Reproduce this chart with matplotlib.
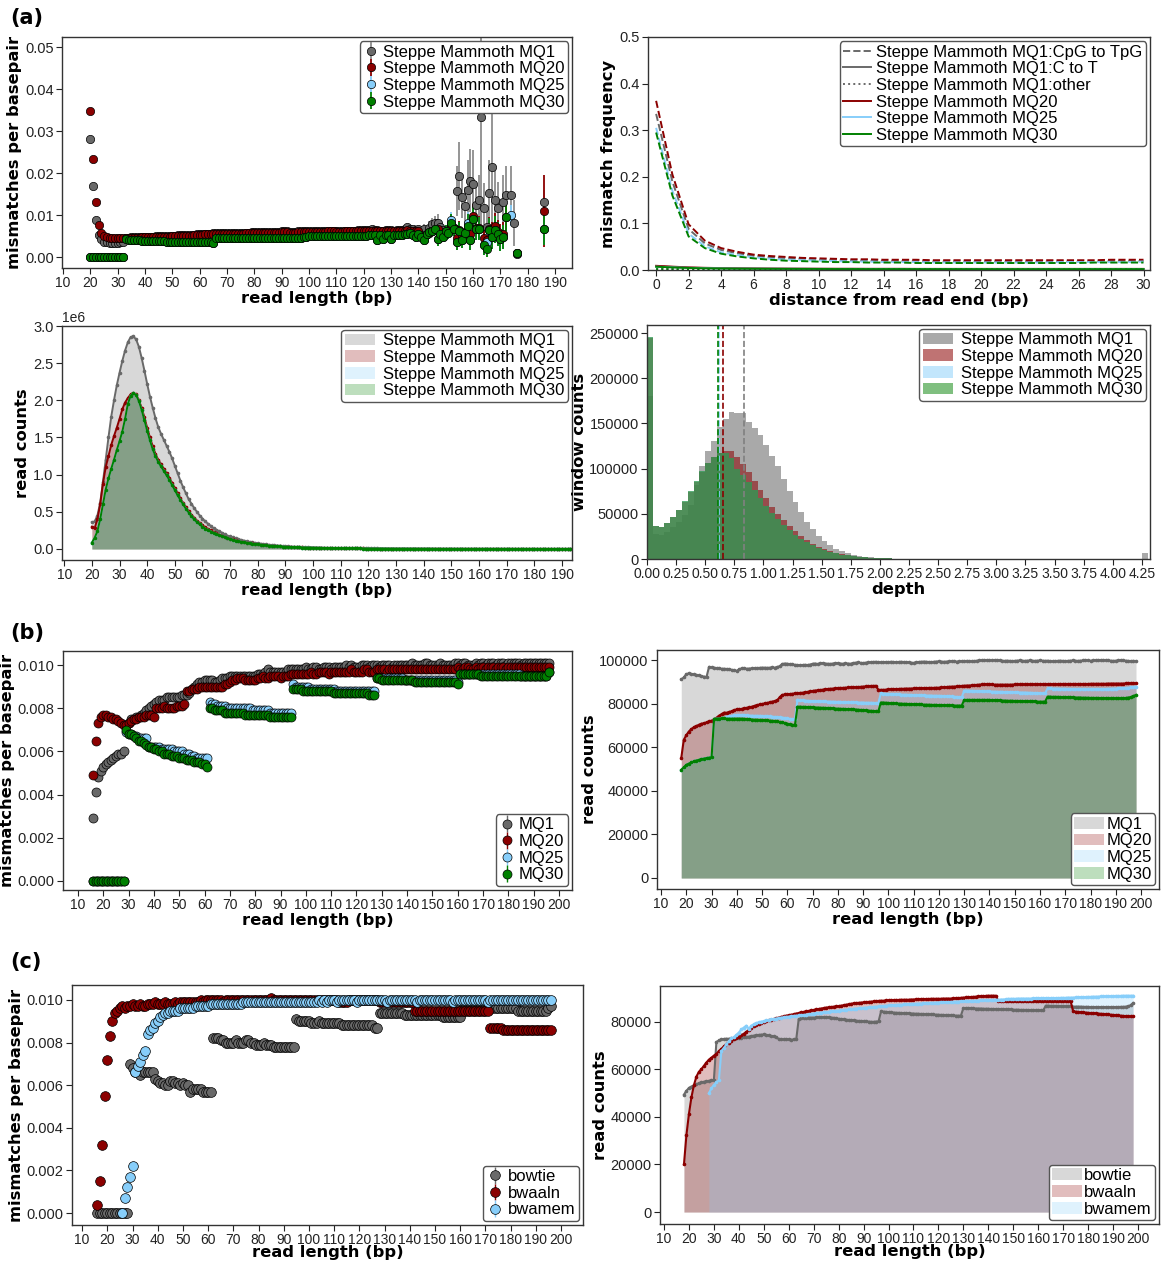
import numpy as np
import matplotlib
matplotlib.use('Agg')
import matplotlib.pyplot as plt

plt.rcParams['font.family'] = ['Liberation Sans', 'DejaVu Sans']

N = None
GRAY, RED, BLUE, GREEN = '#696969', '#8b0000', '#87cefa', '#008000'
COLORS = [GRAY, RED, BLUE, GREEN]
mq_names = ['Steppe Mammoth MQ1', 'Steppe Mammoth MQ20',
            'Steppe Mammoth MQ25', 'Steppe Mammoth MQ30']
mq_short = ['MQ1', 'MQ20', 'MQ25', 'MQ30']
aligners = ['bowtie', 'bwaaln', 'bwamem']

# ---------------- (a) mismatches per basepair, units of 1e-4 ----------------
a1_head_x = list(range(20, 141))
a1_mq1_head = [280, 170, 88, 52, 42, 37, 35, 34, 34, 34, 34, 35, 36,
               46, 46, 47, 47, 47, 48, 48, 48,
               49, 49, 49, 50, 50, 50, 50, 51, 51, 51,
               51, 52, 52, 52, 52, 53, 53, 53, 54, 55,
               56, 56, 56, 56, 57, 57, 57, 57, 57, 57,
               57, 58, 58, 58, 58, 58, 58, 58, 59, 59,
               59, 59, 59, 59, 59, 60, 60, 60, 60, 61,
               61, 61, 60, 60, 60, 61, 61, 61, 61, 62,
               62, 62, 62, 62, 62, 62, 63, 63, 63, 62,
               62, 62, 63, 63, 63, 63, 63, 64, 64, 64,
               64, 65, 66, 65, 64, 63, 63, 64, 64, 65,
               63, 64, 64, 65, 67, 72, 68, 66, 65, 66]
a1_mq20_head = [347, 233, 130, 77, 57, 50, 47, 46, 46, 46, 45, 45, 45,
                45, 45, 45, 46, 46, 46, 47, 47,
                47, 47, 48, 48, 48, 49, 49, 49, 49, 50,
                50, 50, 50, 51, 51, 51, 51, 52, 52, 53,
                53, 54, 54, 54, 55, 55, 55, 55, 55, 55,
                56, 56, 56, 56, 56, 56, 57, 57, 57, 57,
                57, 57, 57, 58, 58, 58, 58, 58, 58, 59,
                59, 59, 58, 58, 58, 59, 59, 59, 59, 60,
                60, 60, 60, 60, 60, 60, 61, 61, 61, 60,
                60, 60, 61, 61, 61, 61, 61, 62, 62, 62,
                62, 62, 63, 62, 62, 61, 61, 62, 62, 62,
                61, 61, 62, 62, 63, 64, 63, 62, 62, 62]
a1_mq30_head = [0, 0, 0, 0, 0, 0, 0, 0, 0, 0, 0, 0, 0,
                42, 41, 41, 40, 40, 40, 39, 39, 39, 39,
                38, 38, 38, 38, 38, 37, 37, 37, 37, 37,
                36, 36, 36, 36, 36, 36, 35, 35, 35, 35, 35, 35, 34,
                46, 46, 46, 46, 46, 46, 46, 46, 46, 46,
                46, 46, 46, 46, 46, 46, 46, 46, 46, 46,
                46, 46, 46, 46, 46, 46, 46, 46, 46, 46, 46, 46, 47,
                49, 50, 50, 50, 50, 50, 50, 50, 50, 50,
                50, 50, 50, 50, 51, 51, 51, 51, 51, 51,
                51, 51, 51, 52, 52, 52, 41, 52, 42, 52, 52, 43, 52,
                53, 53, 52, 55, 55, 58, 52, 48, 55]
a1_mq25_head = a1_mq30_head  # hidden under MQ30 in the picture

a1_tail_x = list(range(141, 187))
a1_mq1_tail = [60, 68, 56, 70, 78, 80, 82, 72, 65, 58,
               62, 78, 70, 158, 193, 142, 121, 160, 182, 175,
               125, 136, 334, 116, 72, 152, 215, 136, 118, N,
               130, 148, N, 148, 82, 7, N, N, N, N,
               N, N, N, N, N, 130]
a1_mq1_err = [8, 10, 10, 15, 15, 18, 20, 15, 12, 12,
              15, 25, 20, 60, 80, 50, 45, 70, 75, 80,
              55, 60, 270, 60, 40, 80, 150, 70, 60, N,
              65, 70, N, 70, 55, 3, N, N, N, N,
              N, N, N, N, N, 30]
a1_mq20_tail = [52, 50, 55, 58, 62, 65, 68, 56, 50, 60,
                62, 75, 70, 45, 65, 50, 60, 78, 55, 97,
                70, 70, N, 45, 40, 68, 55, 74, 60, 50,
                55, 95, N, N, N, 9, N, N, N, N,
                N, N, N, N, N, 110]
a1_mq20_err = [8, 8, 10, 10, 12, 12, 15, 12, 12, 15,
               15, 20, 18, 18, 22, 18, 20, 28, 22, 30,
               28, 28, N, 22, 20, 28, 28, 32, 28, 28,
               28, 32, N, N, N, 3, N, N, N, N,
               N, N, N, N, N, 85]
a1_mq25_tail = [48, 40, 55, 60, 62, 68, 42, 55, 48, 62,
                58, 88, 68, 35, 62, 40, 58, 80, 40, 90,
                68, 68, N, 28, 35, 65, 48, 65, 55, 42,
                48, N, N, 100, N, 9, N, N, N, N,
                N, N, N, N, N, 68]
a1_mq25_err = [8, 8, 10, 10, 12, 12, 15, 12, 12, 15,
               15, 20, 18, 18, 22, 18, 20, 28, 22, 30,
               28, 28, N, 22, 20, 28, 28, 32, 28, 28,
               28, N, N, 25, N, 3, N, N, N, N,
               N, N, N, N, N, 40]
a1_mq30_tail = [48, 40, 55, 60, 62, 68, 42, 55, 48, 62,
                58, 82, 68, 35, 62, 40, 58, 75, 40, 90,
                68, 68, N, 28, 20, 65, 48, 65, 55, 42,
                48, 95, N, N, N, 9, N, N, N, N,
                N, N, N, N, N, 68]
a1_mq30_err = [8, 8, 10, 10, 12, 12, 15, 12, 12, 15,
               15, 20, 18, 18, 22, 18, 20, 28, 22, 30,
               28, 28, N, 22, 20, 28, 28, 32, 28, 28,
               28, 32, N, N, N, 3, N, N, N, N,
               N, N, N, N, N, 40]

# ---------------- (a) mismatch frequency vs distance from read end ----------------
a2_x = list(range(0, 31))
a2_cpg = [
    [0.335, 0.19, 0.088, 0.057, 0.043, 0.036, 0.030, 0.027, 0.025, 0.024, 0.022,
     0.021, 0.020, 0.020, 0.019, 0.019, 0.019, 0.018, 0.018, 0.018, 0.018,
     0.018, 0.018, 0.018, 0.018, 0.018, 0.018, 0.018, 0.019, 0.019, 0.019],
    [0.363, 0.205, 0.098, 0.063, 0.047, 0.039, 0.033, 0.030, 0.028, 0.026, 0.025,
     0.024, 0.023, 0.023, 0.022, 0.022, 0.022, 0.021, 0.021, 0.021, 0.021,
     0.021, 0.021, 0.021, 0.021, 0.021, 0.021, 0.021, 0.022, 0.022, 0.022],
    [0.305, 0.17, 0.078, 0.051, 0.038, 0.032, 0.027, 0.024, 0.022, 0.021, 0.020,
     0.019, 0.018, 0.018, 0.017, 0.017, 0.017, 0.016, 0.016, 0.016, 0.016,
     0.016, 0.016, 0.016, 0.016, 0.017, 0.017, 0.017, 0.017, 0.017, 0.018],
    [0.295, 0.16, 0.072, 0.047, 0.035, 0.029, 0.025, 0.022, 0.020, 0.019, 0.018,
     0.017, 0.017, 0.016, 0.016, 0.016, 0.015, 0.015, 0.015, 0.015, 0.015,
     0.015, 0.015, 0.015, 0.015, 0.015, 0.015, 0.016, 0.016, 0.016, 0.016],
]
a2_ct = [
    [0.008, 0.0065, 0.005, 0.0042, 0.0037, 0.0033, 0.003, 0.0028, 0.0027, 0.0026, 0.0025,
     0.0024, 0.0024, 0.0023, 0.0023, 0.0023, 0.0022, 0.0022, 0.0022, 0.0022, 0.0022,
     0.0022, 0.0022, 0.0022, 0.0022, 0.0022, 0.0022, 0.0022, 0.0022, 0.0022, 0.0022],
    [0.009, 0.0072, 0.0056, 0.0047, 0.0041, 0.0036, 0.0033, 0.0031, 0.0029, 0.0028, 0.0027,
     0.0026, 0.0026, 0.0025, 0.0025, 0.0025, 0.0024, 0.0024, 0.0024, 0.0024, 0.0024,
     0.0024, 0.0024, 0.0024, 0.0024, 0.0024, 0.0024, 0.0024, 0.0024, 0.0024, 0.0024],
    [0.0072, 0.0058, 0.0046, 0.0039, 0.0034, 0.003, 0.0028, 0.0026, 0.0025, 0.0024, 0.0023,
     0.0022, 0.0022, 0.0021, 0.0021, 0.0021, 0.0020, 0.0020, 0.0020, 0.0020, 0.0020,
     0.0020, 0.0020, 0.0020, 0.0020, 0.0020, 0.0020, 0.0020, 0.0020, 0.0020, 0.0020],
    [0.007, 0.0056, 0.0044, 0.0037, 0.0032, 0.0029, 0.0027, 0.0025, 0.0024, 0.0023, 0.0022,
     0.0021, 0.0021, 0.0020, 0.0020, 0.0020, 0.0019, 0.0019, 0.0019, 0.0019, 0.0019,
     0.0019, 0.0019, 0.0019, 0.0019, 0.0019, 0.0019, 0.0019, 0.0019, 0.0019, 0.0019],
]
a2_other = [
    [0.0026, 0.0024, 0.0023, 0.0022, 0.0021, 0.0021, 0.0020, 0.0020, 0.0020, 0.0020, 0.0020,
     0.0019, 0.0019, 0.0019, 0.0019, 0.0019, 0.0019, 0.0019, 0.0019, 0.0019, 0.0019,
     0.0019, 0.0019, 0.0019, 0.0019, 0.0019, 0.0019, 0.0019, 0.0019, 0.0019, 0.0019],
    [0.0024, 0.0022, 0.0021, 0.0020, 0.0019, 0.0019, 0.0018, 0.0018, 0.0018, 0.0018, 0.0018,
     0.0017, 0.0017, 0.0017, 0.0017, 0.0017, 0.0017, 0.0017, 0.0017, 0.0017, 0.0017,
     0.0017, 0.0017, 0.0017, 0.0017, 0.0017, 0.0017, 0.0017, 0.0017, 0.0017, 0.0017],
    [0.0021, 0.0019, 0.0018, 0.0017, 0.0016, 0.0016, 0.0015, 0.0015, 0.0015, 0.0015, 0.0015,
     0.0014, 0.0014, 0.0014, 0.0014, 0.0014, 0.0014, 0.0014, 0.0014, 0.0014, 0.0014,
     0.0014, 0.0014, 0.0014, 0.0014, 0.0014, 0.0014, 0.0014, 0.0014, 0.0014, 0.0014],
    [0.0020, 0.0018, 0.0017, 0.0016, 0.0015, 0.0015, 0.0014, 0.0014, 0.0014, 0.0014, 0.0014,
     0.0013, 0.0013, 0.0013, 0.0013, 0.0013, 0.0013, 0.0013, 0.0013, 0.0013, 0.0013,
     0.0013, 0.0013, 0.0013, 0.0013, 0.0013, 0.0013, 0.0013, 0.0013, 0.0013, 0.0013],
]
a2_kinds = ['CpG to TpG', 'C to T', 'other']

# ---------------- (a) read counts vs length, units of 1e3 ----------------
a3_x = list(range(20, 196))
a3_mq1 = [360, 370, 450, 620, 900, 1200, 1500, 1780, 2000, 2200,
          2370, 2530, 2670, 2780, 2850, 2860, 2820, 2720, 2570, 2400,
          2220, 2050, 1900, 1760, 1640, 1550, 1470, 1390, 1310, 1220,
          1120, 1020, 920, 830, 750, 670, 610, 550, 500, 450,
          410, 370, 340, 310, 280, 260, 240, 220, 200, 180,
          170, 155, 143, 132, 122, 113, 104, 96, 89, 83,
          77, 71, 66, 61, 57, 53, 49, 46, 43, 40,
          37, 35, 32, 30, 28, 26, 25, 23, 22, 20,
          19, 18, 17, 16, 15, 14, 14, 13, 12, 12,
          11, 11, 10, 10, 9, 9, 9, 8, 8, 8,
          7, 7, 7, 7, 6, 6, 6, 6, 5, 5,
          5, 5, 5, 5, 4, 4, 4, 4, 4, 4,
          4, 3, 3, 3, 3, 3, 3, 3, 3, 3,
          3, 3, 2, 2, 2, 2, 2, 2, 2, 2,
          2, 2, 2, 2, 2, 2, 2, 2, 2, 2,
          2, 2, 1, 1, 1, 1, 1, 1, 1, 1,
          1, 1, 1, 1, 1, 1, 1, 1, 1, 1,
          1, 1, 1, 1, 1, 1]
a3_mq20 = [300, 280, 400, 600, 880, 1100, 1250, 1400, 1520, 1630,
           1750, 1880, 1970, 2030, 2080, 2100, 2080, 2000, 1900, 1770,
           1630, 1500, 1380, 1280, 1200, 1140, 1080, 1020, 960, 890,
           820, 750, 680, 620, 560, 510, 460, 420, 380, 350,
           320, 290, 270, 250, 230, 210, 195, 180, 165, 150,
           140, 128, 118, 109, 100, 93, 86, 80, 74, 69,
           64, 59, 55, 51, 47, 44, 41, 38, 36, 33,
           31, 29, 27, 25, 24, 22, 21, 20, 18, 17,
           16, 15, 14, 14, 13, 12, 12, 11, 10, 10,
           9, 9, 9, 8, 8, 8, 7, 7, 7, 6,
           6, 6, 6, 5, 5, 5, 5, 5, 4, 4,
           4, 4, 4, 4, 4, 3, 3, 3, 3, 3,
           3, 3, 3, 3, 3, 2, 2, 2, 2, 2,
           2, 2, 2, 2, 2, 2, 2, 2, 2, 2,
           2, 2, 2, 1, 1, 1, 1, 1, 1, 1,
           1, 1, 1, 1, 1, 1, 1, 1, 1, 1,
           1, 1, 1, 1, 1, 1, 1, 1, 1, 1,
           1, 1, 1, 1, 1, 1]
a3_mq30 = [85, 150, 240, 400, 600, 800, 950, 1080, 1200, 1330,
           1450, 1580, 1750, 1950, 2060, 2100, 2070, 1990, 1870, 1730,
           1590, 1460, 1340, 1250, 1170, 1110, 1050, 990, 930, 860,
           790, 720, 660, 600, 540, 490, 440, 400, 360, 330,
           300, 275, 255, 235, 215, 200, 185, 170, 157, 145,
           135, 124, 114, 105, 97, 90, 83, 77, 72, 67,
           62, 57, 53, 49, 46, 43, 40, 37, 35, 32,
           30, 28, 26, 25, 23, 22, 20, 19, 18, 17,
           16, 15, 14, 13, 12, 12, 11, 11, 10, 10,
           9, 9, 8, 8, 8, 7, 7, 7, 6, 6,
           6, 6, 5, 5, 5, 5, 5, 4, 4, 4,
           4, 4, 4, 4, 3, 3, 3, 3, 3, 3,
           3, 3, 3, 3, 2, 2, 2, 2, 2, 2,
           2, 2, 2, 2, 2, 2, 2, 2, 2, 2,
           2, 2, 1, 1, 1, 1, 1, 1, 1, 1,
           1, 1, 1, 1, 1, 1, 1, 1, 1, 1,
           1, 1, 1, 1, 1, 1, 1, 1, 1, 1,
           1, 1, 1, 1, 1, 1]
a3_mq25 = a3_mq30  # indistinguishable from MQ30 in the picture

# ---------------- (a) depth histogram, bins of 0.05 ----------------
a4_bin_width = 0.05
a4_bins = [round(0.05 * i, 2) for i in range(52)] + [4.25]
a4_mq1 = [180000, 28000, 27000, 30000, 35000, 41000, 49000, 60000, 82000, 103000,
          120000, 131000, 146000, 155000, 163000, 162000, 161000, 152000, 145000, 137000,
          126000, 114000, 103000, 89000, 75000, 63000, 52000, 41000, 33000, 26000,
          20000, 15000, 11500, 8500, 6300, 4600, 3400, 2500, 1800, 1300,
          950, 700, 500, 380, 280, 200, 150, 110, 80, 60,
          45, 35, 7000]
a4_mq20 = [244000, 36000, 35000, 40000, 46000, 54000, 63000, 74000, 85000, 96000,
           106000, 113000, 117000, 120000, 119000, 113000, 105000, 96000, 86000, 76000,
           67000, 58000, 50000, 43000, 36500, 30500, 25500, 21000, 17000, 13800,
           11000, 8800, 7000, 5500, 4300, 3400, 2600, 2000, 1550, 1200,
           900, 700, 530, 400, 300, 230, 170, 130, 100, 75,
           55, 40, 0]
a4_mq30 = [246000, 36000, 35000, 40000, 46000, 54000, 64000, 75000, 86000, 97000,
           106000, 113000, 117000, 117000, 112000, 100000, 93000, 85000, 76000, 67000,
           59000, 51000, 44000, 38000, 32000, 27000, 22500, 18500, 15000, 12000,
           9700, 7800, 6200, 4900, 3900, 3000, 2300, 1800, 1400, 1100,
           800, 600, 460, 350, 270, 210, 160, 120, 90, 70,
           50, 40, 0]
a4_mq25 = a4_mq30  # indistinguishable from MQ30 in the picture
a4_means = [0.83, 0.655, 0.62, 0.61]

# ---------------- (b) and (c): read length as placed on each panel's axis ----------------
b1_x = list(range(16, 197))
b2_x = list(range(18, 199))
c1_x = list(range(16, 197))
c2_x = list(range(18, 199))

# mismatches per basepair, units of 1e-4
b1_mq1 = [29, 41, 48, 51, 53, 54, 55, 56, 57, 58,
          59, 59, 60, 72, 73, 75, 75, 76, 76, 77,
          78, 79, 80, 81, 82, 83, 84, 84, 84, 85,
          85, 85, 85, 85, 85, 86, 86, 86, 87, 89,
          90, 91, 92, 92, 93, 93, 93, 93, 92, 92,
          93, 94, 94, 94, 95, 95, 95, 95, 95, 95,
          95, 95, 95, 95, 95, 96, 96, 96, 97, 98,
          97, 97, 97, 97, 97, 97, 97, 98, 98, 98,
          98, 98, 98, 98, 99, 98, 98, 99, 99, 98,
          98, 99, 99, 99, 98, 99, 99, 99, 99, 99,
          100, 99, 100, 99, 99, 99, 100, 100, 100, 99,
          100, 100, 100, 99, 100, 100, 100, 100, 99, 100,
          100, 100, 100, 100, 100, 100, 101, 100, 100, 100,
          100, 101, 101, 100, 100, 100, 100, 101, 100, 100,
          100, 100, 100, 101, 101, 100, 101, 101, 100, 100,
          100, 101, 100, 101, 101, 100, 101, 101, 101, 100,
          101, 101, 101, 100, 101, 101, 101, 101, 101, 100,
          101, 101, 101, 101, 101, 101, 101, 101, 101, 101, 101]
b1_mq20 = [49, 65, 73, 76, 77, 77, 76, 76, 75, 75,
           74, 73, 72, 72, 73, 74, 75, 75, 76, 76,
           76, 77, 77, 77, 76, 80, 80, 80, 81, 80,
           80, 80, 80, 81, 81, 81, 82, 88, 88, 89,
           89, 89, 90, 90, 90, 90, 90, 90, 90, 90,
           90, 90, 91, 91, 92, 93, 93, 94, 94, 94,
           93, 93, 93, 93, 93, 94, 94, 95, 94, 94,
           95, 95, 95, 95, 94, 95, 95, 95, 96, 96,
           96, 96, 96, 96, 96, 96, 97, 96, 96, 97,
           97, 97, 97, 96, 97, 97, 97, 97, 97, 97,
           97, 97, 98, 97, 97, 97, 97, 98, 98, 97,
           97, 97, 98, 98, 98, 98, 97, 98, 98, 98,
           98, 98, 98, 98, 98, 98, 98, 98, 98, 98,
           98, 98, 98, 98, 98, 98, 98, 98, 98, 98,
           98, 98, 98, 98, 99, 98, 98, 99, 99, 98,
           98, 99, 98, 99, 99, 98, 99, 99, 99, 98,
           99, 99, 99, 98, 99, 99, 99, 99, 99, 99,
           99, 99, 99, 99, 99, 99, 99, 99, 99, 99, 99]
b1_mq25 = [0, 0, 0, 0, 0, 0, 0, 0, 0, 0, 0, 0, 0,
           69, 68, 68, 67, 67, 66, 66, 66, 66, 62,
           62, 62, 62, 62, 61, 61, 61, 61, 61, 60,
           60, 60, 60, 59, 59, 59, 58, 58, 57, 57, 57, 57, 57,
           83, 82, 82, 81, 81, 81, 81, 80, 80, 80,
           80, 80, 80, 80, 80, 80, 80, 79, 79, 79,
           79, 79, 79, 79, 78, 78, 78, 78, 78, 78, 78, 78, 78,
           91, 90, 90, 90, 90, 90, 90, 89, 89, 89,
           89, 89, 89, 89, 89, 89, 89, 88, 88, 88,
           88, 88, 88, 88, 88, 88, 88, 88, 88, 88, 88, 88, 88,
           94, 94, 94, 94, 94, 94, 94, 94, 94, 94,
           94, 93, 93, 93, 93, 93, 93, 93, 93, 93,
           93, 93, 93, 93, 93, 93, 93, 93, 93, 93, 93, 93, 92,
           96, 96, 96, 96, 96, 96, 96, 96, 96, 96,
           96, 96, 96, 96, 96, 96, 96, 96, 96, 96,
           96, 96, 96, 96, 95, 95, 95, 95, 95, 95, 95, 95, 95, 95, 95, 97]
b1_mq30 = [0, 0, 0, 0, 0, 0, 0, 0, 0, 0, 0, 0, 0,
           70, 68, 68, 67, 66, 65, 65, 64, 63, 62,
           62, 61, 61, 60, 60, 59, 59, 59, 58, 58,
           58, 57, 57, 57, 56, 56, 56, 55, 55, 55, 54, 54, 53,
           80, 80, 79, 79, 79, 79, 78, 78, 78, 78,
           78, 78, 78, 78, 77, 77, 77, 77, 77, 77,
           77, 77, 77, 77, 76, 76, 76, 76, 76, 76, 76, 76, 76,
           89, 89, 89, 89, 88, 88, 88, 88, 88, 88,
           88, 88, 88, 88, 88, 88, 87, 87, 87, 87,
           87, 87, 87, 87, 87, 87, 87, 87, 87, 87, 86, 86, 86,
           94, 94, 93, 93, 93, 93, 93, 93, 93, 93,
           93, 93, 93, 93, 93, 92, 92, 92, 92, 92,
           92, 92, 92, 92, 92, 92, 92, 92, 92, 92, 92, 92, 91,
           96, 96, 96, 96, 96, 96, 96, 96, 95, 95,
           95, 95, 95, 95, 95, 95, 95, 95, 95, 95,
           95, 95, 95, 95, 95, 95, 95, 95, 95, 95, 95, 95, 95, 95, 95, 97]
b1_err = 0.00006

# read counts, units of 100
b2_mq1 = [911, 920, 935, 939, 936, 934, 932, 930, 926, 924,
          922, 969, 966, 965, 963, 962, 960, 960, 959, 958,
          955, 952, 951, 958, 962, 962, 960, 961, 962, 963,
          963, 964, 965, 965, 964, 965, 966, 965, 968, 972,
          982, 984, 983, 981, 980, 978, 977, 976, 977, 978,
          977, 979, 983, 984, 982, 985, 986, 984, 983, 982,
          984, 986, 985, 984, 983, 985, 984, 983, 986, 988,
          989, 987, 986, 988, 989, 990, 991, 992, 990, 989,
          990, 991, 990, 992, 991, 990, 991, 992, 991, 990,
          989, 988, 987, 990, 991, 992, 993, 992, 991, 990,
          992, 993, 994, 993, 992, 993, 994, 995, 994, 993,
          994, 995, 994, 996, 995, 994, 995, 997, 998, 999,
          1000, 999, 998, 999, 1000, 999, 998, 997, 996, 997,
          996, 995, 996, 997, 998, 997, 996, 997, 998, 997,
          996, 997, 998, 997, 996, 997, 995, 994, 995, 996,
          997, 996, 995, 996, 997, 998, 997, 996, 997, 998,
          999, 998, 997, 998, 999, 1000, 999, 998, 999, 998,
          997, 996, 997, 998, 999, 998, 997, 996, 995, 996, 995]
b2_mq20 = [550, 634, 655, 672, 683, 692, 697, 703, 708, 710,
           714, 718, 722, 728, 736, 745, 752, 759, 758, 762,
           765, 770, 774, 774, 776, 779, 781, 783, 786, 790,
           793, 796, 798, 801, 803, 806, 809, 812, 815, 830,
           840, 842, 843, 844, 845, 847, 848, 849, 850, 852,
           854, 856, 858, 860, 861, 862, 864, 866, 867, 868,
           869, 870, 871, 872, 872, 873, 874, 875, 875, 875,
           876, 877, 878, 879, 880, 881, 881, 882, 864, 863,
           863, 864, 865, 866, 866, 867, 867, 868, 868, 869,
           869, 869, 870, 870, 870, 871, 871, 871, 872, 872,
           872, 873, 873, 874, 875, 876, 877, 878, 878, 879,
           880, 881, 882, 883, 883, 884, 885, 886, 887, 888,
           889, 889, 888, 888, 887, 887, 887, 887, 887, 887,
           887, 887, 888, 888, 888, 888, 888, 888, 888, 888,
           889, 889, 889, 889, 889, 889, 889, 889, 889, 889,
           890, 890, 890, 890, 890, 890, 890, 890, 890, 890,
           890, 890, 891, 891, 891, 891, 891, 891, 891, 892,
           892, 892, 892, 892, 892, 892, 893, 893, 893, 893, 893]
b2_mq25 = [496, 508, 519, 525, 530, 535, 539, 542, 545, 548, 550, 552, 554,
           730, 731, 731, 732, 732,
           740, 742, 744, 746, 748, 748, 748, 748, 746, 745,
           745, 744, 744, 744, 743, 742, 741, 741, 740, 739,
           738, 737, 736, 734, 732, 730, 729, 728,
           818, 816, 815, 814, 813, 812, 812, 811, 811, 810,
           810, 810, 809, 809, 809, 808, 808, 808, 807, 807,
           807, 806, 806, 806, 805, 805, 805, 804, 804, 804, 803, 803, 802,
           847, 846, 845, 844, 843, 843, 842, 842, 841, 841,
           841, 840, 840, 839, 839, 838, 838, 838, 837, 837,
           837, 836, 836, 836, 835, 835, 834, 834, 833, 832, 831, 830, 829,
           860, 860, 859, 859, 858, 858, 857, 857, 856, 856,
           856, 855, 855, 854, 854, 854, 853, 853, 853, 852,
           852, 852, 851, 851, 851, 850, 850, 849, 849, 848, 848, 847, 847,
           870, 870, 869, 869, 869, 868, 868, 868, 867, 867,
           867, 866, 866, 866, 866, 865, 865, 865, 866, 866,
           866, 866, 867, 867, 868, 868, 869, 869, 870, 870, 871, 872, 873, 875, 876, 878]
b2_mq30 = [496, 508, 519, 525, 530, 535, 539, 542, 545, 548, 550, 552, 554,
           730, 731, 731, 732, 732,
           731, 731, 731, 731, 731, 731, 731, 730, 729, 728,
           727, 726, 726, 725, 725, 724, 723, 722, 721, 720,
           718, 716, 714, 711, 708, 705, 703, 702,
           786, 786, 785, 785, 784, 784, 783, 782, 782, 781,
           781, 780, 780, 779, 778, 777, 777, 776, 776, 775,
           775, 774, 774, 773, 772, 771, 770, 769, 768, 767, 766, 765, 764,
           805, 805, 804, 803, 802, 802, 801, 800, 800, 799,
           799, 798, 798, 797, 797, 796, 796, 795, 795, 795,
           794, 794, 794, 793, 793, 793, 792, 792, 792, 791, 791, 791, 791,
           817, 817, 817, 817, 817, 817, 817, 817, 817, 817,
           817, 816, 816, 815, 815, 814, 814, 813, 813, 813,
           812, 812, 812, 811, 811, 811, 810, 810, 810, 809, 809, 809, 809,
           832, 832, 831, 831, 831, 830, 830, 830, 829, 829,
           829, 828, 828, 828, 827, 827, 827, 826, 826, 826,
           826, 825, 825, 825, 824, 824, 824, 824, 824, 824, 825, 826, 828, 830, 835, 840]

c1_bowtie = [0, 0, 0, 0, 0, 0, 0, 0, 0, 0, 0, 0, 0,
             70, 68, 66, 66, 65, 66, 66, 66, 66, 66,
             63, 62, 61, 61, 60, 60, 62, 62, 61, 61,
             60, 61, 60, 60, 57, 58, 58, 58, 58, 57, 57, 57, 57,
             82, 82, 82, 81, 81, 80, 80, 80, 80, 81,
             80, 80, 80, 81, 81, 80, 80, 79, 79, 79,
             80, 79, 79, 79, 78, 78, 78, 78, 78, 78, 78, 78, 78,
             91, 90, 90, 90, 90, 90, 89, 89, 89, 90,
             89, 89, 89, 89, 89, 89, 89, 89, 88, 88,
             88, 88, 88, 88, 88, 88, 88, 88, 88, 88, 88, 87, 87,
             94, 94, 94, 94, 94, 94, 94, 94, 94, 94,
             93, 93, 93, 93, 93, 93, 93, 93, 93, 93,
             93, 93, 93, 93, 93, 92, 92, 92, 92, 92, 92, 92, 92,
             96, 96, 96, 96, 96, 96, 96, 96, 96, 96,
             96, 96, 96, 96, 96, 96, 96, 96, 96, 96,
             96, 96, 95, 95, 95, 95, 95, 95, 95, 95, 95, 95, 95, 95, 96, 97]
c1_bwaaln = [4, 15, 32, 55, 72, 83, 90, 94, 95, 96,
             97, 96, 97, 97, 98, 97, 97, 98, 97, 97,
             98, 98, 98, 99, 98, 98, 98, 99, 98, 98,
             98, 99, 98, 99, 99, 99, 99, 99, 99, 99,
             99, 100, 99, 100, 100, 100, 100, 100, 100, 100,
             99, 100, 100, 100, 100, 100, 100, 100, 100, 100,
             100, 100, 100, 100, 100, 100, 100, 100, 100, 101,
             100, 100, 100, 100, 100, 100, 100, 100, 100, 100,
             100, 100, 100, 100, 100, 100, 100, 100, 100, 100,
             100, 100, 100, 100, 100, 100, 99, 99, 99, 99,
             100, 100, 100, 100, 100, 100, 100, 100, 100, 100,
             100, 100, 99, 99, 99, 99, 99, 99, 99, 99,
             99, 99, 99, 99, 99, 99,
             95, 95, 95, 95, 95, 95, 95, 95, 95, 95,
             95, 95, 95, 95, 95, 95, 95, 95, 95, 95,
             95, 95, 95, 95, 95, 95, 95, 95, 95, 95,
             87, 87, 87, 87, 87, 86, 86, 86, 86, 86,
             86, 86, 86, 86, 86, 86, 86, 86, 86, 86, 86, 86, 86, 86, 86]
c1_bwamem = [N, N, N, N, N, N, N, N, N, N,
             0, 7, 12, 17, 22, 66, 69, 71, 74, 76,
             84, 86, 87, 89, 90, 92, 93, 94, 94, 95,
             95, 95, 95, 96, 96, 96, 96, 96, 96, 97,
             97, 97, 97, 97, 97, 98, 98, 98, 98, 98,
             98, 98, 98, 98, 98, 98, 98, 98, 99, 99,
             99, 99, 99, 99, 99, 99, 99, 99, 99, 99,
             99, 99, 99, 99, 99, 99, 99, 99, 99, 99,
             99, 99, 99, 99, 99, 99, 99, 99, 100, 99,
             100, 99, 100, 100, 100, 99, 100, 100, 100, 100,
             100, 100, 100, 99, 100, 100, 100, 100, 100, 100,
             100, 100, 100, 100, 100, 99, 100, 100, 100, 100,
             100, 100, 100, 100, 100, 100, 100, 99, 100, 100,
             100, 100, 100, 100, 100, 100, 100, 100, 100, 100,
             100, 99, 100, 100, 100, 100, 100, 100, 100, 100,
             100, 100, 100, 100, 100, 99, 100, 100, 100, 100,
             100, 100, 100, 100, 100, 100, 100, 100, 100, 100,
             100, 100, 100, 100, 100, 100, 100, 100, 100, 100, 100]
c1_err = 0.00006

c2_bowtie = [494, 510, 522, 528, 533, 538, 542, 545, 548, 550,
             552, 554, 556,
             715, 722, 726, 728, 729, 729, 730, 731, 732, 733,
             734, 736, 737, 738, 740, 742, 744, 745, 746, 747,
             745, 743, 740, 739, 735,
             728, 726, 726, 727, 726, 725, 726, 726,
             812, 815, 817, 818, 818, 818, 818, 819, 819, 819,
             820, 820, 819, 818, 817, 815, 813, 811, 810, 809,
             808, 807, 806, 805, 804, 803, 802, 802, 801, 800, 800, 801, 802,
             844, 843, 842, 841, 840, 839, 838, 838, 837, 837,
             836, 836, 835, 835, 834, 834, 833, 833, 832, 832,
             831, 831, 830, 830, 829, 829, 828, 828, 827, 827, 826, 826, 826,
             858, 858, 857, 857, 857, 856, 856, 856, 855, 855,
             855, 854, 854, 854, 853, 853, 853, 852, 852, 852,
             851, 851, 851, 850, 850, 850, 849, 849, 849, 848, 848, 848, 848,
             868, 868, 867, 867, 867, 866, 866, 866, 865, 865,
             865, 864, 864, 864, 864, 863, 863, 863, 862, 862,
             862, 862, 862, 862, 862, 862, 862, 862, 862, 862, 863, 863, 864, 865, 870, 879]
c2_bwaaln = [200, 325, 413, 483, 534, 570, 590, 601, 615, 629,
             641, 649, 658, 665, 677, 686, 697, 705, 713, 719,
             726, 732, 738, 744, 750, 758, 766, 774, 782, 788,
             793, 797, 800, 803, 806, 809, 812, 815, 818, 821,
             823, 826, 828, 830, 832, 835, 837, 840, 842, 844,
             846, 848, 850, 852, 854, 856, 858, 860, 861, 862,
             864, 865, 866, 868, 870, 872, 874, 876, 878, 879,
             880, 881, 882, 883, 884, 885, 886, 887, 888, 889,
             889, 890, 890, 891, 891, 892, 892, 893, 893, 893,
             893, 894, 894, 895, 895, 896, 896, 896, 896, 897,
             897, 897, 897, 897, 898, 898, 898, 898, 899, 899,
             900, 901, 902, 903, 904, 904, 905, 906, 907, 908,
             908, 909, 910, 910, 910, 910,
             886, 886, 886, 886, 886, 886, 886, 886, 886, 886,
             886, 886, 886, 886, 886, 886, 886, 886, 886, 886,
             886, 886, 886, 886, 886, 886, 886, 886, 886, 886,
             844, 843, 842, 841, 840, 839, 838, 837, 836, 836,
             835, 834, 833, 832, 831, 830, 829, 828, 827, 826, 825, 824, 823, 823, 823]
c2_bwamem = [N, N, N, N, N, N, N, N, N, N,
             500, 520, 535, 545, 555, 677, 690, 705, 718, 730,
             735, 745, 755, 768, 776, 784, 770, 784, 790, 795,
             798, 801, 803, 806, 808, 810, 812, 814, 816, 818,
             819, 821, 822, 824, 825, 826, 827, 828, 829, 830,
             831, 833, 835, 836, 837, 839, 840, 841, 842, 844,
             845, 846, 847, 849, 850, 851, 852, 853, 855, 856,
             857, 858, 859, 860, 861, 862, 863, 864, 865, 866,
             867, 868, 869, 869, 870, 871, 872, 872, 873, 874,
             874, 875, 876, 876, 877, 877, 878, 879, 879, 880,
             880, 881, 881, 882, 882, 883, 883, 884, 884, 885,
             885, 886, 886, 887, 887, 888, 888, 889, 889, 890,
             890, 891, 891, 892, 892, 893, 893, 894, 894, 895,
             897, 897, 897, 897, 898, 898, 898, 898, 898, 898,
             899, 899, 899, 899, 899, 900, 900, 900, 900, 900,
             900, 901, 901, 901, 902, 902, 902, 903, 903, 904,
             904, 904, 905, 905, 906, 906, 906, 907, 907, 907,
             908, 908, 908, 909, 909, 909, 910, 910, 910, 910, 910]


def arr(v, scale=1.0):
    return np.array(v, dtype=float) * scale


fig = plt.figure(figsize=(11.61, 12.62), dpi=100)


def axes_px(left, top, right, bottom):
    W, H = 1161, 1262
    return fig.add_axes([left / W, 1 - bottom / H, (right - left) / W, (bottom - top) / H])


def style(ax, xlabel, ylabel, xpad=0.5):
    ax.set_xlabel(xlabel, fontsize=11.8, fontweight='bold', family='DejaVu Sans', labelpad=xpad)
    ax.set_ylabel(ylabel, fontsize=11.8, fontweight='bold', family='DejaVu Sans', labelpad=2)
    ax.tick_params(direction='out', length=4, width=0.8, labelsize=10, pad=2, colors='#222222')
    ax.tick_params(axis='y', labelsize=10.5)
    for s in ax.spines.values():
        s.set_linewidth(1.0)
        s.set_color('#333333')


def legend(ax, loc, **kw):
    opts = dict(loc=loc, fontsize=12, frameon=True, fancybox=True, framealpha=1,
                edgecolor='#555555', borderpad=0.2, labelspacing=0.1,
                handletextpad=0.3, borderaxespad=0.25)
    opts.update(kw)
    leg = ax.legend(**opts)
    leg.get_frame().set_linewidth(1.0)
    return leg


FILL_ALPHA = 0.26

# ---- a1
ax = axes_px(62, 37, 572, 268)
heads = [a1_mq1_head, a1_mq20_head, a1_mq25_head, a1_mq30_head]
tails = [a1_mq1_tail, a1_mq20_tail, a1_mq25_tail, a1_mq30_tail]
errs = [a1_mq1_err, a1_mq20_err, a1_mq25_err, a1_mq30_err]
ecols = ['#8c8c8c', RED, BLUE, GREEN]
for head, tail, err, c, ec, name in zip(heads, tails, errs, COLORS, ecols, mq_names):
    ax.errorbar(a1_head_x, arr(head, 1e-4), fmt='o', ms=6, mfc=c, mec='black', mew=0.5,
                color=c, zorder=2)
    ax.errorbar(a1_tail_x, arr(tail, 1e-4), yerr=arr(err, 1e-4), fmt='o', ms=6, mfc=c,
                mec='black', mew=0.5, ecolor=ec, elinewidth=1.3, capsize=0, label=name, zorder=2)
ax.set_xlim(9.6, 196.2)
ax.set_ylim(-0.0026, 0.0524)
ax.set_xticks(range(10, 200, 10))
ax.set_yticks([0, 0.01, 0.02, 0.03, 0.04, 0.05])
ax.set_yticklabels(['0.00', '0.01', '0.02', '0.03', '0.04', '0.05'])
style(ax, 'read length (bp)', 'mismatches per basepair')
legend(ax, 'upper right', handlelength=0.9)

# ---- a2
ax = axes_px(648, 37, 1150, 270)
for i, c in enumerate(COLORS):
    ax.plot(a2_x, a2_cpg[i], color=c, ls='--', lw=1.4,
            label=mq_names[i] + ':' + a2_kinds[0] if i == 0 else None)
    ax.plot(a2_x, a2_ct[i], color=c, ls='-', lw=1.4,
            label=mq_names[i] + ':' + a2_kinds[1] if i == 0 else mq_names[i])
    ax.plot(a2_x, a2_other[i], color=c, ls=':', lw=1.4,
            label=mq_names[i] + ':' + a2_kinds[2] if i == 0 else None)
ax.set_xlim(-0.5, 30.4)
ax.set_ylim(0, 0.5)
ax.set_xticks(range(0, 31, 2))
ax.set_yticks([0, 0.1, 0.2, 0.3, 0.4, 0.5])
ax.set_yticklabels(['0.0', '0.1', '0.2', '0.3', '0.4', '0.5'])
style(ax, 'distance from read end (bp)', 'mismatch frequency')
legend(ax, 'upper right', handlelength=1.7)

# ---- a3
ax = axes_px(62, 326, 572, 560)
for vals, c, name in zip([a3_mq1, a3_mq20, a3_mq25, a3_mq30], COLORS, mq_names):
    y = arr(vals, 1e3)
    ax.fill_between(a3_x, y, color=c, alpha=FILL_ALPHA, lw=0, label=name)
    ax.plot(a3_x, y, color=c, lw=1.4, marker='o', ms=1.6)
ax.set_xlim(9.2, 193.6)
ax.set_ylim(-0.148e6, 3.0e6)
ax.set_xticks(range(10, 200, 10))
ax.set_yticks([0, 0.5e6, 1e6, 1.5e6, 2e6, 2.5e6, 3e6])
style(ax, 'read length (bp)', 'read counts')
ax.yaxis.get_offset_text().set_fontsize(10)
legend(ax, 'upper right', handlelength=1.8, handletextpad=0.5)

# ---- a4
ax = axes_px(647, 325, 1150, 559)
alphas = [0.5, 0.55, 0.5, 0.5]
bar_cols = ['#555555', RED, BLUE, GREEN]
for vals, c, al, name in zip([a4_mq1, a4_mq20, a4_mq25, a4_mq30], bar_cols, alphas, mq_names):
    ax.bar(a4_bins, vals, width=a4_bin_width, align='edge', color=c, alpha=al, lw=0, label=name)
for m, c in zip(a4_means, ['#808080', RED, BLUE, GREEN]):
    ax.axvline(m, color=c, ls='--', lw=1.2)
ax.set_xlim(0, 4.32)
ax.set_ylim(0, 258900)
ax.set_xticks([0.25 * i for i in range(18)])
ax.set_xticklabels(['%.2f' % (0.25 * i) for i in range(18)])
ax.set_yticks(range(0, 250001, 50000))
style(ax, 'depth', 'window counts')
legend(ax, 'upper right', handlelength=1.8, handletextpad=0.5)

# ---- b1
ax = axes_px(63, 651, 572, 890)
for vals, c, name in zip([b1_mq1, b1_mq20, b1_mq25, b1_mq30], COLORS, mq_short):
    ax.errorbar(b1_x, arr(vals, 1e-4), yerr=b1_err, fmt='o', ms=6.5, mfc=c, mec='black',
                mew=0.5, ecolor=c, elinewidth=1.0, capsize=0, label=name)
ax.set_xlim(4.1, 205.1)
ax.set_ylim(-0.00042, 0.01065)
ax.set_xticks(range(10, 201, 10))
ax.set_yticks([0, 0.002, 0.004, 0.006, 0.008, 0.010])
ax.set_yticklabels(['0.000', '0.002', '0.004', '0.006', '0.008', '0.010'])
style(ax, 'read length (bp)', 'mismatches per basepair')
legend(ax, 'lower right', handlelength=1.0, handletextpad=0.2)

# ---- b2
ax = axes_px(657, 650, 1159, 889)
for vals, c, name in zip([b2_mq1, b2_mq20, b2_mq25, b2_mq30], COLORS, mq_short):
    y = arr(vals, 100)
    ax.fill_between(b2_x, y, color=c, alpha=FILL_ALPHA, lw=0, label=name)
    ax.plot(b2_x, y, color=c, lw=1.5, marker='o', ms=1.6)
ax.set_xlim(8.4, 207.1)
ax.set_ylim(-5050, 104600)
ax.set_xticks(range(10, 201, 10))
ax.set_yticks(range(0, 100001, 20000))
style(ax, 'read length (bp)', 'read counts')
legend(ax, 'lower right', handlelength=1.8, handletextpad=0.1)

# ---- c1
ax = axes_px(72, 985, 583, 1225)
for vals, c, name in zip([c1_bowtie, c1_bwaaln, c1_bwamem], [GRAY, RED, BLUE], aligners):
    ax.errorbar(c1_x, arr(vals, 1e-4), yerr=c1_err, fmt='o', ms=7, mfc=c, mec='black',
                mew=0.5, ecolor=c, elinewidth=1.0, capsize=0, label=name)
ax.set_xlim(6.0, 208.7)
ax.set_ylim(-0.00056, 0.0107)
ax.set_xticks(range(10, 201, 10))
ax.set_yticks([0, 0.002, 0.004, 0.006, 0.008, 0.010])
ax.set_yticklabels(['0.000', '0.002', '0.004', '0.006', '0.008', '0.010'])
style(ax, 'read length (bp)', 'mismatches per basepair', xpad=-1.5)
legend(ax, 'lower right', handlelength=1.0, handletextpad=0.3)

# ---- c2
ax = axes_px(660, 986, 1159, 1224)
for vals, c, name in zip([c2_bowtie, c2_bwaaln, c2_bwamem], [GRAY, RED, BLUE], aligners):
    y = arr(vals, 100)
    ax.fill_between(c2_x, y, color=c, alpha=FILL_ALPHA, lw=0, label=name)
    ax.plot(c2_x, y, color=c, lw=1.5, marker='o', ms=1.6)
ax.set_xlim(8.4, 208.4)
ax.set_ylim(-5030, 95080)
ax.set_xticks(range(10, 201, 10))
ax.set_yticks(range(0, 80001, 20000))
style(ax, 'read length (bp)', 'read counts', xpad=-1.5)
legend(ax, 'lower right', handlelength=1.8, handletextpad=0.1)

for y, t in [(18, '(a)'), (633, '(b)'), (962, '(c)')]:
    fig.text(10 / 1161, 1 - y / 1262, t, fontsize=15, fontweight='bold',
             family='DejaVu Sans', va='center', ha='left')

fig.savefig('out.png', dpi=100)
